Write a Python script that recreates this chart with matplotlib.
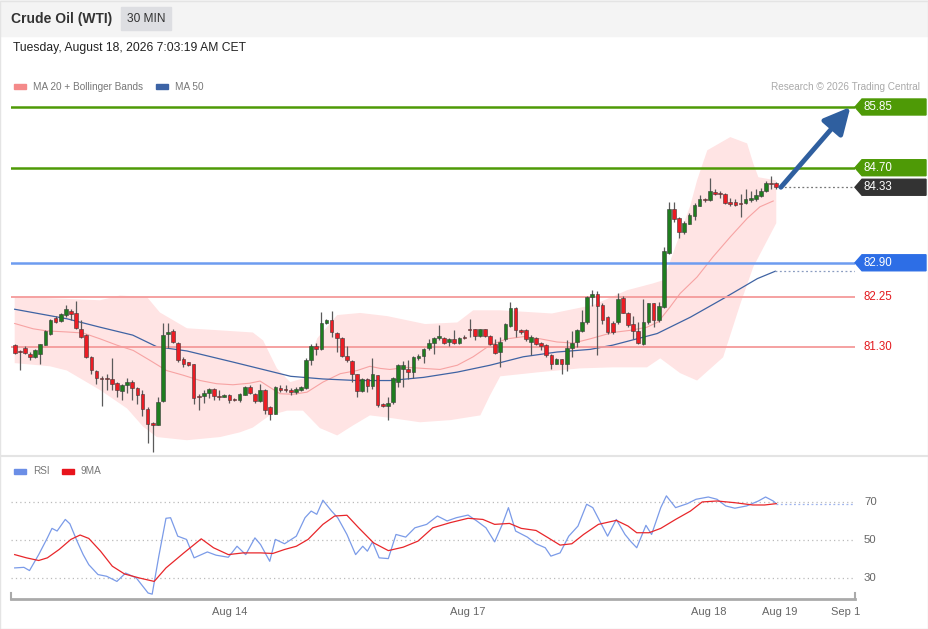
import numpy as np
import matplotlib
matplotlib.use("Agg")
import matplotlib.pyplot as plt
from matplotlib.patches import Rectangle, Polygon
from matplotlib.lines import Line2D
import matplotlib.transforms as mtransforms

plt.rcParams['font.family'] = ['Liberation Sans', 'DejaVu Sans']

W, H = 929, 629

# 30 min candles, oldest first
opens = [81.34, 81.22, 81.29, 81.18, 81.12, 81.17, 81.35, 81.55, 81.86, 81.80,
         81.91, 81.99, 81.94, 81.65, 81.53, 81.12, 80.85, 80.72, 80.72, 80.69,
         80.63, 80.47, 80.58, 80.64, 80.52, 80.41, 80.14, 79.87, 79.83, 80.28,
         81.56, 81.61, 81.38, 81.08, 81.02, 80.98, 80.37, 80.37, 80.44, 80.51,
         80.38, 80.36, 80.40, 80.32, 80.30, 80.40, 80.54, 80.42, 80.28, 80.50,
         80.16, 80.04, 80.52, 80.51, 80.50, 80.45, 80.49, 80.53, 81.05, 81.32,
         81.26, 81.76, 81.81, 81.57, 81.48, 81.13, 81.04, 80.79, 80.47, 80.69,
         80.56, 80.77, 80.23, 80.18, 80.27, 80.64, 80.88, 80.88, 80.83, 81.09,
         81.14, 81.28, 81.38, 81.48, 81.48, 81.40, 81.46, 81.38, 81.50, 81.64,
         81.64, 81.52, 81.64, 81.52, 81.37, 81.21, 81.45, 81.70, 82.05, 81.62,
         81.62, 81.40, 81.48, 81.38, 81.34, 81.16, 80.99, 81.07, 80.99, 81.29,
         81.40, 81.61, 81.78, 82.25, 82.30, 82.10, 81.87, 81.76, 81.78, 82.23,
         81.95, 81.75, 81.61, 81.36, 81.78, 82.13, 81.81, 82.06, 83.09, 83.91,
         83.74, 83.48, 83.64, 83.78, 83.98, 84.10, 84.08, 84.24, 84.22, 84.21,
         84.06, 84.05, 84.04, 84.04, 84.08, 84.10, 84.17, 84.25, 84.42, 84.41]
highs = [81.36, 81.24, 81.32, 81.21, 81.27, 81.37, 81.62, 81.84, 81.89, 81.95,
         82.10, 82.03, 82.17, 81.82, 81.56, 81.14, 80.87, 80.75, 80.80, 81.09,
         80.64, 80.61, 80.71, 80.68, 80.54, 80.50, 80.16, 79.89, 80.36, 81.76,
         81.76, 81.65, 81.40, 81.12, 81.03, 80.99, 80.42, 80.49, 80.53, 80.53,
         80.49, 80.41, 80.42, 80.33, 80.44, 80.56, 80.59, 80.44, 80.61, 80.51,
         80.18, 80.56, 80.58, 80.59, 80.53, 80.55, 80.57, 81.09, 81.37, 81.38,
         81.97, 81.84, 81.99, 81.59, 81.50, 81.32, 81.05, 80.80, 80.71, 80.71,
         81.09, 80.78, 80.25, 80.35, 80.73, 80.98, 81.04, 81.05, 81.14, 81.18,
         81.29, 81.46, 81.50, 81.72, 81.50, 81.48, 81.62, 81.50, 81.53, 81.84,
         81.65, 81.65, 81.65, 81.53, 81.46, 81.50, 81.76, 82.15, 82.06, 81.65,
         81.64, 81.53, 81.50, 81.40, 81.36, 81.18, 81.09, 81.08, 81.43, 81.61,
         81.65, 82.00, 82.28, 82.39, 82.37, 82.13, 81.89, 81.80, 82.32, 82.27,
         81.97, 81.89, 81.78, 82.22, 82.14, 82.14, 82.16, 83.19, 84.05, 84.05,
         83.76, 83.70, 83.84, 84.03, 84.18, 84.12, 84.51, 84.30, 84.26, 84.22,
         84.12, 84.10, 84.20, 84.30, 84.26, 84.29, 84.32, 84.45, 84.54, 84.43]
lows = [81.17, 80.87, 81.17, 81.05, 81.10, 80.98, 81.34, 81.53, 81.76, 81.78,
        81.88, 81.81, 81.64, 81.48, 81.09, 80.80, 80.61, 80.18, 80.50, 80.49,
        80.36, 80.30, 80.44, 80.30, 80.23, 79.99, 79.48, 79.32, 79.82, 80.27,
        81.28, 81.38, 81.02, 80.93, 80.95, 80.23, 80.12, 80.25, 80.33, 80.31,
        80.30, 80.35, 80.25, 80.28, 80.27, 80.39, 80.41, 80.25, 80.26, 80.04,
        79.92, 80.03, 80.45, 80.45, 80.39, 80.42, 80.47, 80.51, 80.97, 81.16,
        81.24, 81.75, 81.50, 81.21, 81.12, 81.02, 80.64, 80.35, 80.45, 80.45,
        80.51, 80.17, 80.16, 79.93, 80.23, 80.54, 80.55, 80.69, 80.71, 81.05,
        81.00, 81.24, 81.18, 81.43, 81.37, 81.33, 81.36, 81.36, 81.45, 81.50,
        81.43, 81.50, 81.50, 81.35, 81.18, 80.92, 81.42, 81.69, 81.50, 81.56,
        81.42, 81.16, 81.34, 81.24, 81.12, 80.88, 80.98, 80.80, 80.86, 81.12,
        81.31, 81.59, 81.75, 82.08, 81.15, 81.75, 81.56, 81.56, 81.75, 81.94,
        81.69, 81.46, 81.36, 81.34, 81.75, 81.68, 81.78, 82.05, 83.06, 83.67,
        83.36, 83.45, 83.63, 83.71, 83.97, 84.06, 84.07, 84.18, 84.13, 84.02,
        83.98, 83.97, 83.77, 84.02, 84.05, 84.07, 84.15, 84.24, 84.30, 84.29]
closes = [81.20, 81.21, 81.20, 81.11, 81.24, 81.36, 81.60, 81.82, 81.77, 81.93,
          82.03, 81.93, 81.67, 81.50, 81.12, 80.87, 80.71, 80.70, 80.70, 80.60,
          80.49, 80.59, 80.64, 80.52, 80.39, 80.14, 79.85, 79.83, 80.27, 81.53,
          81.59, 81.40, 81.05, 80.99, 80.96, 80.33, 80.35, 80.44, 80.51, 80.37,
          80.36, 80.40, 80.30, 80.30, 80.42, 80.54, 80.44, 80.28, 80.50, 80.11,
          80.03, 80.54, 80.49, 80.49, 80.45, 80.51, 80.55, 81.05, 81.32, 81.26,
          81.76, 81.81, 81.58, 81.48, 81.13, 81.05, 80.79, 80.47, 80.69, 80.56,
          80.79, 80.21, 80.18, 80.25, 80.71, 80.96, 80.96, 80.84, 81.12, 81.13,
          81.26, 81.38, 81.48, 81.51, 81.39, 81.46, 81.38, 81.48, 81.48, 81.62,
          81.52, 81.64, 81.52, 81.37, 81.19, 81.40, 81.74, 82.05, 81.62, 81.59,
          81.45, 81.50, 81.37, 81.33, 81.15, 80.99, 81.07, 80.99, 81.29, 81.38,
          81.62, 81.78, 82.25, 82.30, 82.08, 81.82, 81.59, 81.59, 82.22, 81.95,
          81.73, 81.61, 81.39, 81.78, 82.13, 81.81, 82.08, 83.12, 83.91, 83.72,
          83.48, 83.65, 83.80, 84.00, 84.10, 84.08, 84.25, 84.20, 84.20, 84.04,
          84.02, 84.00, 84.02, 84.10, 84.12, 84.18, 84.26, 84.42, 84.40, 84.33]

# MA 20 and Bollinger bands, read at candle positions
ma20_x = [0, 3.6, 6.3, 10.2, 13.4, 16.7, 20, 23.2, 26.5, 29.7, 33, 36.3, 39.5, 42.7,
          46, 48, 49.3, 51.9, 54.5, 57.2, 60.3, 63.7, 67, 69.5, 71.5, 73.4, 76.8,
          79.9, 83.2, 86.6, 89.7, 93, 96.3, 99.5, 102.8, 106.1, 109.3, 112.6, 117,
          120.4, 123.7, 125.9, 128.2, 130.2, 133.5, 136.6, 140, 143.3, 145.8, 148.4]
ma20_y = [81.75, 81.65, 81.61, 81.59, 81.57, 81.46, 81.34, 81.24, 81.05, 80.86, 80.77,
          80.67, 80.61, 80.59, 80.62, 80.66, 80.58, 80.42, 80.41, 80.45, 80.64, 80.80,
          80.86, 80.94, 80.90, 80.88, 80.92, 80.90, 80.88, 80.96, 81.12, 81.34, 81.46,
          81.50, 81.46, 81.40, 81.38, 81.46, 81.58, 81.62, 81.68, 81.78, 82.06, 82.32,
          82.63, 83.01, 83.39, 83.74, 83.96, 84.07]
band_up_x = [0, 6.9, 16.7, 20.6, 25.9, 28.4, 33.7, 40.2, 46.6, 48.6, 51.3, 53.9, 56.4,
             59.2, 63.1, 67.6, 72.9, 80.3, 86.6, 89.7, 95, 105.1, 113.2, 119.8, 124.9,
             126.9, 128.8, 132.2, 133.5, 135.5, 140, 143.3, 144.5, 145.5, 149]
band_up_y = [82.25, 82.23, 82.19, 82.28, 82.25, 81.96, 81.66, 81.62, 81.58, 81.43, 80.90,
             80.64, 80.71, 81.47, 81.91, 81.95, 81.89, 81.74, 81.77, 82.00, 82.00, 81.94,
             82.10, 82.38, 82.51, 82.57, 83.08, 83.99, 84.46, 85.03, 85.28, 85.16, 84.78,
             84.52, 84.46]
band_lo_x = [0, 6.9, 10.2, 16.7, 22, 25.1, 27.8, 33.7, 40.2, 44.1, 46.6, 49.9, 53.3,
             56.4, 59.7, 63.1, 66.2, 69.5, 72.9, 79.3, 85.2, 91.1, 93, 95, 102.8, 110.6,
             117.1, 123.7, 126.3, 130.2, 133.5, 138.6, 142, 144.5, 149]
band_lo_y = [81.00, 80.94, 80.86, 80.49, 80.14, 79.80, 79.60, 79.54, 79.60, 79.69, 79.78,
             80.01, 80.10, 80.10, 79.77, 79.63, 79.82, 80.01, 79.97, 79.88, 79.92, 80.01,
             80.39, 80.75, 80.83, 80.90, 80.92, 80.92, 81.09, 80.81, 80.67, 81.11, 82.13,
             82.82, 83.65]
ma50_x = [0, 10.2, 16.7, 23.1, 27.8, 33.7, 42.7, 49.4, 54, 60.3, 67, 73.4, 80, 86.6,
          93, 99.5, 106.1, 112.6, 117, 125.7, 132.2, 138.6, 145.3, 148.8]
ma50_y = [82.02, 81.84, 81.68, 81.53, 81.31, 81.23, 81.02, 80.86, 80.75, 80.70, 80.67,
          80.67, 80.73, 80.83, 80.96, 81.12, 81.21, 81.26, 81.34, 81.56, 81.87, 82.22,
          82.60, 82.74]

# RSI and its 9 period MA
rsi_x = [0, 1.8, 2.9, 4.7, 6.4, 7.3, 8.3, 9.9, 10.8, 12.2, 13.4, 14.5, 16.3, 18.0, 20.0,
         21.7, 23.8, 26.1, 26.9, 28.2, 29.6, 30.5, 31.9, 33.6, 35.1, 37.7, 39.4, 41.8,
         43.5, 45.2, 47.0, 48.1, 49.9, 51.0, 52.8, 55.1, 56.8, 58.0, 59.1, 60.3, 62.0,
         63.2, 65.0, 66.7, 68.1, 69.0, 70.0, 71.3, 73.1, 74.6, 76.5, 78.3, 80.6, 82.7,
         84.6, 86.4, 88.7, 90.4, 92.2, 93.9, 95.4, 96.6, 98.0, 100.3, 102.0, 103.8,
         104.9, 106.7, 108.4, 110.2, 111.9, 113.1, 114.8, 116.0, 117.7, 119.4, 120.6,
         121.7, 123.5, 124.6, 126.4, 127.5, 129.3, 131.6, 133.3, 135.7, 137.4, 139.1,
         140.9, 143.2, 145.5, 146.9, 148.4, 149.0]
rsi_y = [35.3, 35.6, 33.9, 42.3, 51.1, 56.1, 54.7, 60.8, 58.5, 49.4, 42.3, 37.0, 31.8,
         30.9, 28.2, 32.6, 30.0, 22.1, 21.5, 41.5, 61.4, 61.7, 52.0, 50.3, 40.6, 43.7,
         42.0, 40.9, 46.7, 42.3, 51.1, 47.6, 38.8, 50.3, 48.0, 52.0, 61.7, 65.2, 63.5,
         70.9, 65.2, 61.7, 52.9, 42.3, 46.7, 44.1, 49.0, 40.6, 40.2, 52.9, 51.5, 56.4,
         58.2, 62.6, 60.0, 61.7, 63.1, 60.0, 56.4, 49.0, 58.2, 67.0, 54.7, 51.5, 48.0,
         45.9, 41.5, 43.2, 52.0, 57.3, 68.8, 67.0, 58.2, 52.0, 60.8, 52.9, 49.0, 45.9,
         57.7, 52.9, 67.0, 73.2, 67.0, 69.1, 71.4, 72.6, 71.4, 67.9, 66.7, 67.9, 70.5,
         72.6, 70.5, 69.1]
ma9_x = [0, 2.3, 4.7, 6.4, 8.7, 11.0, 12.8, 14.5, 16.8, 19.1, 21.5, 24.4, 27.3, 29.6,
         33.1, 36.5, 38.9, 41.8, 44.7, 48.1, 50.5, 52.8, 55.1, 57.4, 60.3, 62.6, 65.0,
         67.3, 70.2, 73.1, 76.0, 78.9, 81.8, 85.2, 88.7, 91.6, 93.9, 96.8, 99.1, 102.0,
         104.4, 106.7, 109.0, 111.3, 114.2, 117.7, 120.0, 121.7, 124.1, 126.4, 129.3,
         132.2, 134.5, 137.4, 140.9, 144.4, 146.7, 149.0]
ma9_y = [42.3, 40.6, 39.2, 40.6, 45.0, 50.3, 52.6, 50.8, 44.1, 36.2, 32.1, 30.0, 28.2,
         35.3, 43.2, 50.6, 45.9, 42.3, 43.2, 43.2, 42.9, 45.0, 46.7, 50.3, 58.2, 62.6,
         63.0, 56.4, 48.5, 44.4, 46.2, 49.4, 56.4, 59.1, 61.4, 60.8, 58.2, 58.7, 56.1,
         55.0, 51.1, 47.3, 48.0, 52.9, 58.2, 60.3, 57.3, 53.8, 53.8, 56.1, 60.8, 65.2,
         70.0, 70.5, 69.6, 68.4, 68.4, 69.1]
rsi_levels = [70, 50, 30]

# analyst levels
resistances = [85.85, 84.70]
pivot = 82.90
supports = [82.25, 81.30]
target = 85.85

tick_pos = [42, 88.7, 135.7, 149.6, 162.5]
tick_labels = ['Aug 14', 'Aug 17', 'Aug 18', 'Aug 19', 'Sep 1']


def ax_rect(x0, y0, x1, y1):
    return [x0 / W, 1 - y1 / H, (x1 - x0) / W, (y1 - y0) / H]


fig = plt.figure(figsize=(W / 100, H / 100), dpi=100)
fig.patch.set_facecolor('white')

# header
fig.patches.append(Rectangle((0, 1 - 36 / H), 1, 36 / H, transform=fig.transFigure,
                             color='#f4f4f4', zorder=0))
fig.patches.append(Rectangle((121 / W, 1 - 30 / H), 50 / W, 23 / H, transform=fig.transFigure,
                             color='#dddee2', zorder=1))
fig.text(11 / W, 1 - 18.5 / H, 'Crude Oil (WTI)', fontsize=10, fontweight='bold',
         color='#333333', va='center')
fig.text(146 / W, 1 - 18.5 / H, '30 MIN', fontsize=8.6, color='#333333', va='center', ha='center')
fig.text(13 / W, 1 - 48.5 / H, 'Tuesday, August 18, 2026 7:03:19 AM CET', fontsize=8.7,
         color='#222222', va='center')

# frame and panel separator
fig.patches.append(Rectangle((0.5 / W, 0.5 / H), 1 - 1.5 / W, 1 - 1.5 / H, transform=fig.transFigure,
                             fill=False, edgecolor='#e4e4e4', lw=1, zorder=5))
fig.lines.append(Line2D([0, 1], [1 - 456 / H, 1 - 456 / H], transform=fig.transFigure,
                        color='#e4e4e4', lw=1.5))


def legend_item(x, y, color, label):
    fig.patches.append(Rectangle((x / W, 1 - (y + 2.5) / H), 12 / W, 5 / H,
                                 transform=fig.transFigure, color=color))
    fig.text((x + 19) / W, 1 - y / H, label, fontsize=7.2, color='#777777', va='center')


legend_item(14, 86.5, '#f48a8a', 'MA 20 + Bollinger Bands')
legend_item(156, 86.5, '#3c63a5', 'MA 50')
fig.text(920 / W, 1 - 86.5 / H, 'Research © 2026 Trading Central', fontsize=7.2,
         color='#aaaaaa', va='center', ha='right')
legend_item(14, 471, '#6b8ee6', 'RSI')
legend_item(62, 471, '#e8141c', '9MA')

x_min, x_max = -0.72, 164.4

# price panel
ax = fig.add_axes(ax_rect(11, 95, 855, 455))
ax.set_xlim(x_min, x_max)
ax.set_ylim(79.26, 86.077)
ax.axis('off')

ax.fill(np.concatenate([band_up_x, band_lo_x[::-1]]),
        np.concatenate([band_up_y, band_lo_y[::-1]]),
        color='#ffe4e4', lw=0, zorder=1)
ax.plot(ma20_x, ma20_y, color='#f7a3a3', lw=0.8, zorder=2)
ax.plot(ma50_x, ma50_y, color='#3f63a3', lw=0.9, zorder=2)
ax.hlines(ma50_y[-1], ma50_x[-1], x_max, colors='#8a9cc0', lw=0.9, linestyles=(0, (1.5, 2)), zorder=2)

for lvl in resistances:
    ax.axhline(lvl, color='#4e9a06', lw=1.8, zorder=2)
ax.axhline(pivot, color='#6d9cf0', lw=1.8, zorder=2)
for lvl in supports:
    ax.axhline(lvl, color='#f59a9a', lw=1.3, zorder=2)

n = len(closes)
xs = np.arange(n)
o = np.array(opens)
c = np.array(closes)
up = c >= o
body_lo = np.minimum(o, c)
body_h = np.maximum(np.abs(c - o), 0.02)
ax.vlines(xs, lows, highs, colors='#5a5a5a', lw=0.9, zorder=3)
ax.bar(xs[up], body_h[up], bottom=body_lo[up], width=0.72, color='#1f7d1f',
       edgecolor='#3a3a3a', lw=0.4, zorder=4)
ax.bar(xs[~up], body_h[~up], bottom=body_lo[~up], width=0.72, color='#ec1c24',
       edgecolor='#3a3a3a', lw=0.4, zorder=4)

ax.hlines(closes[-1], n - 0.2, x_max, colors='#777777', lw=0.9, linestyles=(0, (1.5, 2)), zorder=2)
ax.annotate('', xy=(x_max - 0.9, target), xytext=(n - 0.1, closes[-1]),
            arrowprops=dict(arrowstyle='-|>,head_length=0.8,head_width=0.4', lw=3.5,
                            color='#2f5f9f', shrinkA=0, shrinkB=0, mutation_scale=20),
            zorder=6)

# price tags on the right
tr = mtransforms.blended_transform_factory(fig.transFigure, ax.transData)
hh = 8 / 52.8


def price_tag(p, bg, label):
    pts = [(855 / W, p), (862 / W, p + hh), (926 / W, p + hh), (926 / W, p - hh), (862 / W, p - hh)]
    ax.add_patch(Polygon(pts, closed=True, transform=tr, color=bg, clip_on=False, zorder=7))
    ax.text(864 / W, p, label, transform=tr, color='white', fontsize=8.3, va='center',
            clip_on=False, zorder=8)


for lvl in resistances:
    price_tag(lvl, '#4e9a06', f'{lvl:.2f}')
price_tag(closes[-1], '#333333', f'{closes[-1]:.2f}')
price_tag(pivot, '#2d6ee6', f'{pivot:.2f}')
for lvl in supports:
    ax.text(864 / W, lvl, f'{lvl:.2f}', transform=tr, color='#e3191e', fontsize=8.3,
            va='center', clip_on=False)

# RSI panel
ax2 = fig.add_axes(ax_rect(11, 470, 855, 599))
ax2.set_xlim(x_min, x_max)
ax2.set_ylim(18.95, 86.8)
for s in ['top', 'right', 'left']:
    ax2.spines[s].set_visible(False)
ax2.spines['bottom'].set_color('#aaaaaa')
ax2.spines['bottom'].set_linewidth(2)
ax2.set_yticks([])
tr2 = mtransforms.blended_transform_factory(fig.transFigure, ax2.transData)
for lvl in rsi_levels:
    ax2.axhline(lvl, color='#bbbbbb', lw=0.9, linestyle=(0, (1, 2.5)))
    ax2.text(864 / W, lvl, str(lvl), transform=tr2, color='#666666', fontsize=8.2,
             va='center', clip_on=False)
ax2.plot(rsi_x, rsi_y, color='#7b9be8', lw=0.9)
ax2.plot(ma9_x, ma9_y, color='#e8262a', lw=0.9)
ax2.hlines(rsi_y[-1], rsi_x[-1], x_max, colors='#9fb4ee', lw=0.9, linestyles=(0, (1.5, 2)))
ax2.plot([0, 0], [0, 0.05], transform=ax2.transAxes, color='#aaaaaa', lw=1.5, clip_on=False)
ax2.plot([1, 1], [0, 0.05], transform=ax2.transAxes, color='#aaaaaa', lw=1.5, clip_on=False)
ax2.set_xticks(tick_pos)
ax2.set_xticklabels(tick_labels, fontsize=8, color='#666666')
ax2.tick_params(axis='x', length=0, pad=6)

fig.savefig('out.png', dpi=100)
